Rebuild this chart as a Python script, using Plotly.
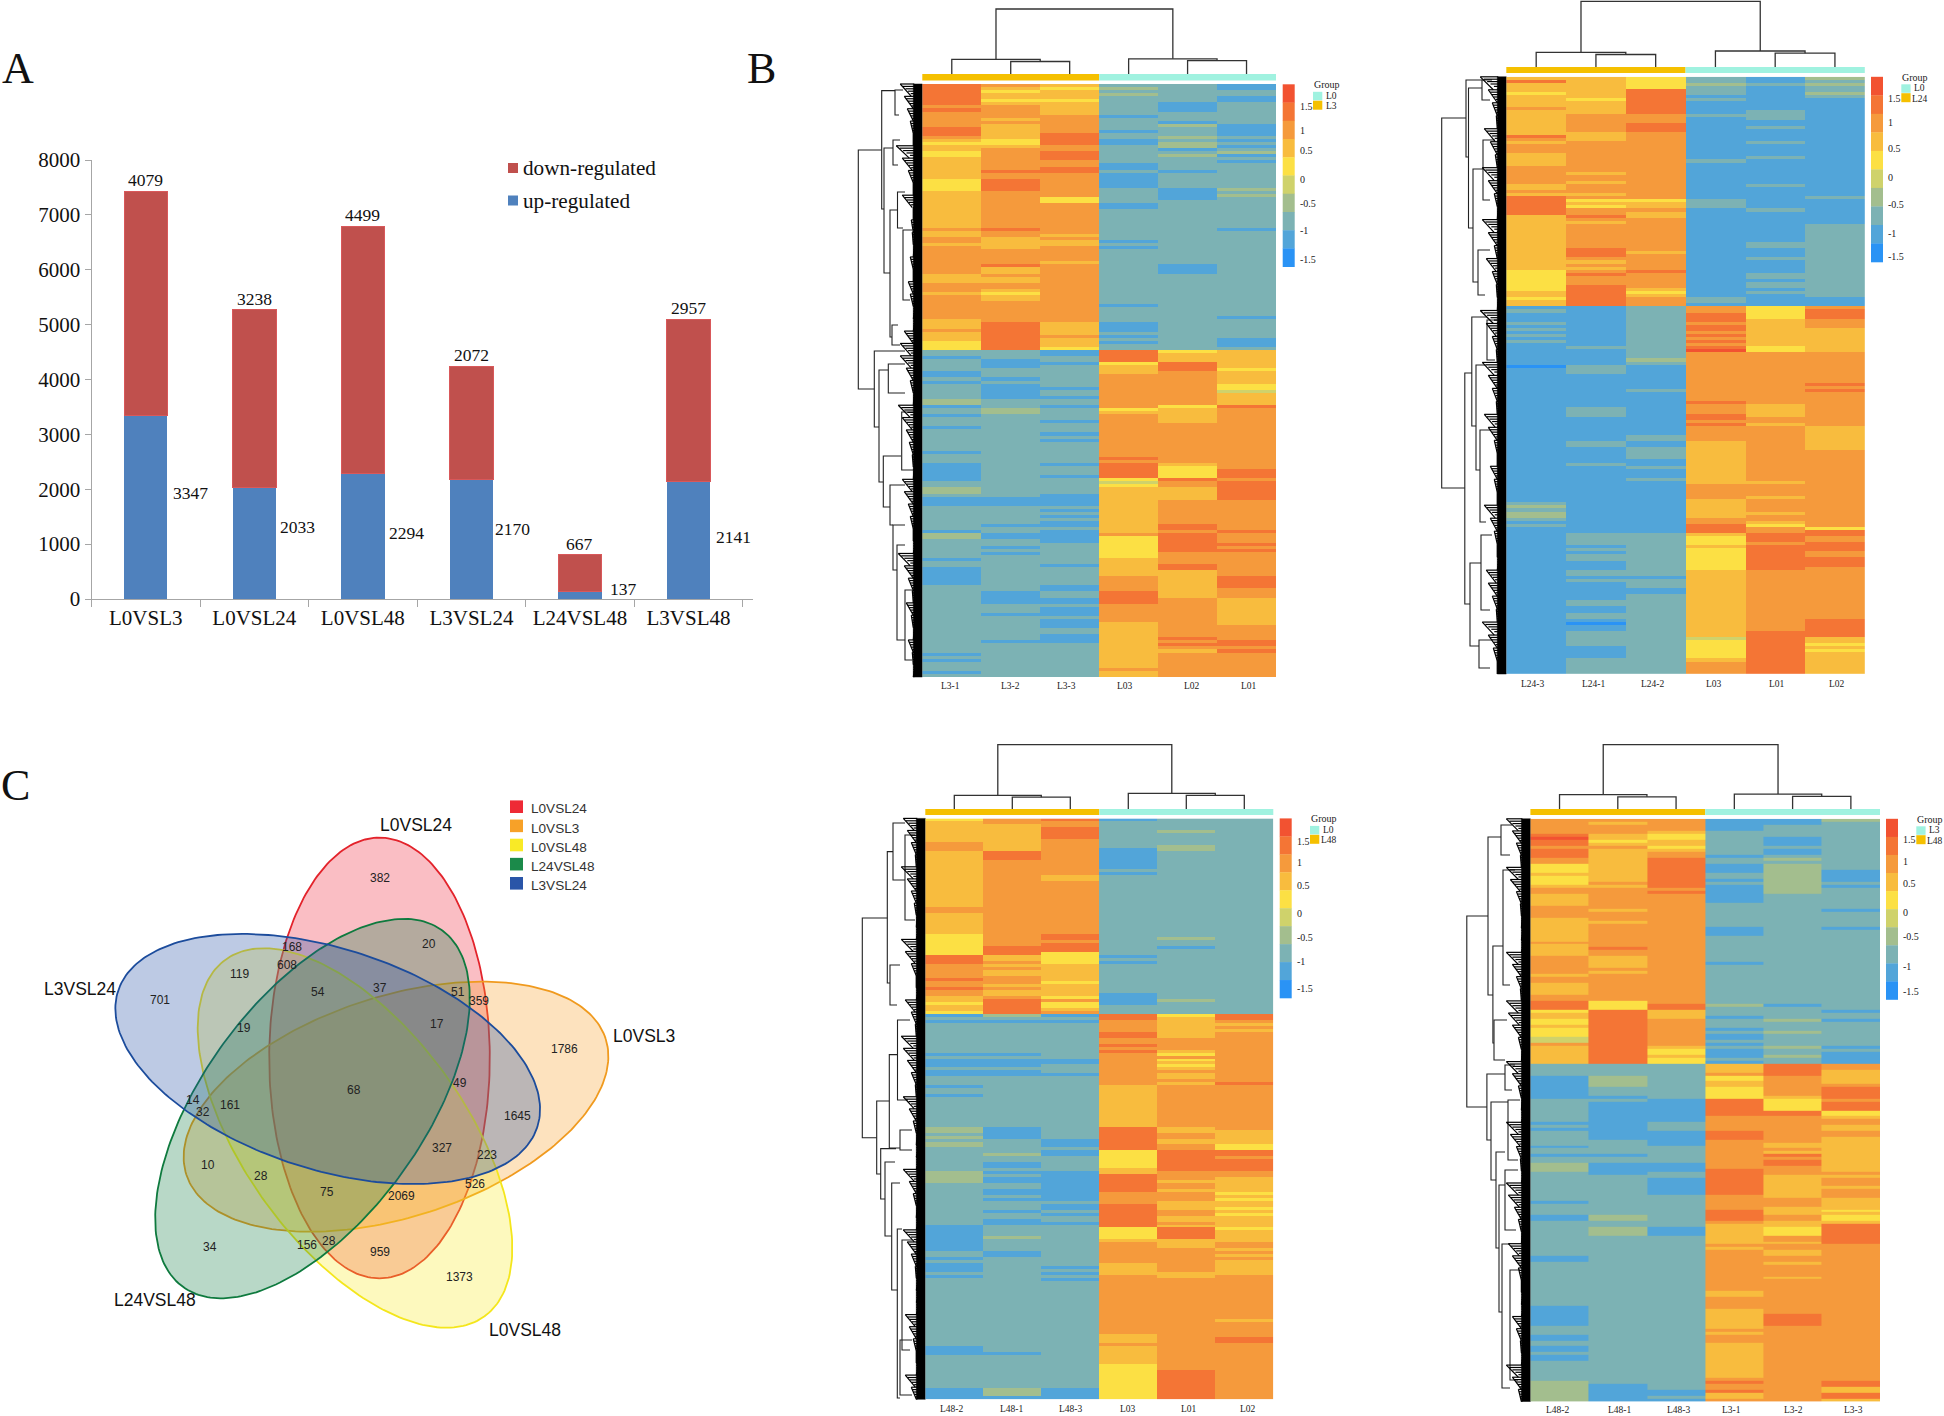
import math
import numpy as np
import plotly.graph_objects as go

W, H = 1944, 1416
SERIF = "Liberation Serif"
SANS = "Liberation Sans"

# ---------- Panel A data ----------
categories = ["L0VSL3", "L0VSL24", "L0VSL48", "L3VSL24", "L24VSL48", "L3VSL48"]
up_regulated = [3347, 2033, 2294, 2170, 137, 2141]
down_regulated = [4079, 3238, 4499, 2072, 667, 2957]
up_label_y = [1935, 1310, 1205, 1272, 186, 1123]
up_label_shift = [45, 43, 44, 41.5, 43.5, 45]

# ---------- Panel C data ----------
venn_sets = ["L0VSL24", "L0VSL3", "L0VSL48", "L24VSL48", "L3VSL24"]
venn_line = ["#E3232B", "#F09A1E", "#F4E61C", "#0E7A3E", "#1C4C9C"]
venn_fill = ["rgba(238,40,60,0.30)", "rgba(247,160,40,0.30)", "rgba(250,235,40,0.30)",
             "rgba(20,125,70,0.30)", "rgba(35,80,165,0.30)"]
venn_cx = [379.5, 396.0, 355.0, 312.5, 327.7]
venn_cy = [1058.0, 1106.7, 1138.0, 1108.6, 1059.0]
venn_angle = [90, -18, 54, -54, 18]
venn_major, venn_minor = 220.4, 110.3
venn_numbers = ["382", "20", "168", "608", "119", "54", "37", "51", "359", "701", "19", "17",
                "1786", "49", "68", "14", "32", "161", "1645", "327", "223", "10", "28", "75",
                "526", "2069", "34", "156", "28", "959", "1373"]
venn_num_x = [852, 962, 654, 643, 537, 712, 851, 1027, 1074, 359, 547, 978,
              1265, 1031, 794, 432, 455, 515, 1159, 991, 1090, 467, 585, 732,
              1065, 899, 470, 687, 737, 852, 1030]
venn_num_y = [308, 482, 489, 536, 559, 605, 596, 605, 630, 628, 699, 691,
              754, 843, 863, 888, 920, 902, 931, 1014, 1031, 1057, 1086, 1128,
              1108, 1140, 1272, 1267, 1257, 1286, 1350]
venn_name_labels = ["L0VSL24", "L3VSL24", "L0VSL3", "L24VSL48", "L0VSL48"]
venn_name_x = [415.6, 80.0, 643.8, 154.5, 525.0]
venn_name_y = [825.0, 988.9, 1036.0, 1299.6, 1330.0]

# ---------- Panel B data: colour-bin of each row, one digit per sample ----------
bin_colors = ["#2A93F5", "#52A5D9", "#7CB2B4", "#A3BE8E", "#CFD26B",
              "#FCE044", "#F8BC3E", "#F59A3C", "#F47535", "#F25231"]

hm1_samples = ["L3-1", "L3-2", "L3-3", "L03", "L02", "L01"]
hm1_up = """876221 865321 856222 866322 866221 855221 866212 776212 876212 776222 777122 767222
777212 767231 867221 867121 868221 768232 658121 558132 667231 677212 578223 578231
678222 677221 677122 678122 688212 677122 677122 587122 587122 587122 587213 677212
677213 675212 675222 677122 677122 677222 677222 677222 677222 677222 677222 787221
677222 676222 767222 766122 666222 767122 777222 777222 777222 777222 776222 787212
767212 767212 677222 667222 667222 777222 777222 767222 657222 767222 767222 777222
777122 777222 777222 777222 777221 677222 686122 686122 786122 686222 687122 686221 586121 586221 585222""".split()
hm1_low = """221856 221866 122866 212866 211586 212686 222685 122676 122776 212776 122776 212775
211775 212774 212776 211776 322776 322776 121758 232567 232667 122767 222767 221767
222777 122777 222777 221777 222777 221777 222777 222777 222777 122777 222777 222877
222777 121867 122857 122858 122858 121858 122587 222478 222578 322668 322668 221668
111668 111677 111677 222677 221677 222677 221677 222677 221677 211687 222687 121678
311787 311587 221587 222588 212587 222588 212577 222577 122677 222677 221687 122687
122667 122667 122768 122768 122768 221768 221767 212867 212867 211876 211876 222776
221776 221776 211776 222776 221776 221676 221677 222677 222677 221677 221687 211678
222688 222677 222668 122677 222677 122677 222677 222677 222777 122677 222677""".split()

hm2_samples = ["L24-3", "L24-1", "L24-2", "L03", "L01", "L02"]
hm2_up = """665213 865212 665323 665212 668212 568213 668112 658211 668111 668111 768111 668121
677221 677121 677111 678111 678121 678111 667111 867111 767111 677121 777111 777111
777111 677111 677121 677211 677111 777111 777111 767111 777111 777111 767111 677121
677111 777111 667111 877112 855211 866211 856211 877121 876111 686111 677111 667111
677112 677112 677112 677112 677112 677112 677122 677122 687112 686112 687112 677122
667112 677112 667112 578112 587122 577122 577112 577122 587122 586112 685122 686112 587211 687211 687111""".split()
hm2_low = """112757 212758 112858 112858 112867 212767 112867 212866 112766 212866 112766 212866
112766 122856 112956 112777 112777 113777 112777 021777 121777 121777 111777 111777
111777 111778 111777 112778 111777 111777 111777 111877 111767 121767 121767 121867
111877 111777 111867 111776 111776 111776 112776 112776 121676 121676 112676 112677
112677 112677 111677 121677 112677 111677 111677 111677 112677 111667 111777 111777
111777 111777 111767 111677 211677 311677 211677 311667 311677 211777 111767 211857
111875 111878 122688 122587 122587 122578 112688 122588 112587 122587 122588 112588
112588 112587 122677 122677 111677 122677 112677 112677 111677 111677 112677 112677
122677 122677 112677 112677 122677 122677 112678 102678 112678 112678 122688 122688
122486 122586 122585 112586 112585 112586 112586 122686 122786 122786 122786 122786""".split()

hm3_samples = ["L48-2", "L48-1", "L48-3", "L03", "L01", "L02"]
hm3_up = """578122 677222 667222 668222 668232 668222 668222 667222 767222 767232 767132 687122
687122 687122 677122 677122 677122 677222 677122 676222 676222 677222 677222 677222
677222 677222 677222 677222 677222 677222 777222 777222 677222 677222 677222 677222
677222 677222 677222 578222 578232 577222 578222 588212 588222 585222 865122 865222
875122 766222 776222 766222 766222 776222 876222 775222 766222 876222 766222 766122
675122 687132 585122 685222 686222 587222""".split()
hm3_low = """131858 222868 111767 222766 222767 222766 222867 222867 222777 222777 222877 222777
222867 112757 222777 111757 111767 112757 222767 112777 111767 222767 222777 222768
122677 222677 222677 122677 222677 222677 222677 222677 222677 222677 222677 222677
222677 222677 312867 312866 212876 312876 221866 321866 321875 222875 221588 231588
222587 222588 212588 212588 222688 311677 321877 311876 311866 221876 221876 211866
211775 221776 211775 222766 221866 221865 212876 221875 222866 212866 211876 122866
122585 122586 122586 132586 122666 122767 122767 122776 212777 212776 122777 222776
122676 121676 122676 221666 122767 221777 222777 222777 222777 222777 222777 222777
222777 222777 222777 222777 222777 222777 222777 222776 222777 222777 222777 222777
222677 222678 222678 222777 122677 122677 112677 222677 222677 222677 222577 222577
222587 222587 222587 222587 222587 222587 131587 131587 131587 111587""".split()

hm4_samples = ["L48-2", "L48-1", "L48-3", "L3-1", "L3-2", "L3-3"]
hm4_up = """777113 767112 777122 777122 776222 865222 965212 856212 866212 775222 866212 867212
867122 768232 768222 568132 568132 568131 668231 568231 568131 578232 668131 777132
778132 677122 677122 677122 677222 777222 767221 777222 777222 677222 667222 677222
677121 677122 677122 677222 677222 777222 677222 687222 677222 677222 767222 767222
767122 767222 777222 767222 677222 777222 777222 677222 677222 677222 677222 777222
777222 857222 858312 858222 586221 686222 686122 587231 587222 687222 587122 587232
587122 487122 487222 787122 686231 685122 685121 686131 685221 685121""".split()
hm4_low = """222687 222687 222686 222786 132576 132576 132676 132677 122578 122578 122578 112568
221857 211858 211858 211858 211885 211885 211776 211777 112777 212776 112776 211877
211877 211876 221776 221766 122766 222776 222766 112786 222776 222786 311786 311776
311876 212877 222866 221867 221867 221867 221866 221867 221867 222767 222776 122776
222776 222766 222865 222866 132875 132875 222766 222668 231658 231658 231658 222678
222678 222668 222777 222677 222767 222767 122777 122777 222767 222777 222777 222777
222777 222767 222777 222777 222777 222777 222677 222677 222777 222777 222777 122777
122677 122677 122687 122687 122687 122687 222677 222777 222677 122777 122777 222777
222677 122677 122677 222677 122677 122677 222677 222677 222677 222677 222677 222677
222777 322878 312778 312776 311876 311678 312678 311776""".split()

# row dendrogram brackets: x, y_top, y_bottom, x_child_top, x_child_bottom
hm1_brackets = [(858.3,150,389,881.7,874.3),(881.7,90.6,209,895,884),(884,148,273,893,890),
                (890,210,337,897.5,892),(897.5,192,228,905,903),(892,325,345,898,900),
                (895,90,115,903,899),(893,140,165,900,898),(903,230,300,912,910),
                (874.3,351,427,905,879),(879,370,482,888,883.3),(888.3,364,393,905,905),
                (883.3,456,507,901,890),(901.7,412,470,915,915),(890,485,525,905,893),
                (893,525,570,905,897),(897,545,640,905,905),(905,590,660,912,912)]
hm2_brackets = [(1441.7,118,488,1466,1464.8),(1466,80,157,1482,1468.5),(1468.5,88,228,1482,1473),
                (1473,169,282,1483,1478),(1478,250,295,1490,1485),(1483,140,200,1495,1490),
                (1482,80,100,1492,1490),(1464.8,373,604,1472,1470),(1471.8,317,426,1487,1476),
                (1476,365,470,1485,1480),(1487,320,360,1497,1495),(1480,430,522,1490,1486),
                (1470,563,646,1481,1479),(1481,535,610,1492,1490),(1479,640,668,1492,1490)]
hm3_brackets = [(862.3,918,1137.7,887.3,876.7),(887.3,851.6,983,893,890),(893,823,880,905,905),
                (905,835,920,915,915),(890,965,1005,900,897),(876.7,1101,1174,889.3,880.7),
                (889.3,1054.6,1148,897.5,900),(897.5,1020,1100,910,908),(900,1130,1150,912,912),
                (880.7,1148.6,1199,896,885),(885,1162,1236,895,891.7),(891.7,1183,1290,900,897.3),
                (897.3,1229,1398,902,900),(902,1240,1350,912,910),(900,1340,1395,912,912)]
hm4_brackets = [(1466.8,916,1107,1488,1486.9),(1488,837,995,1501,1492.9),(1501,825,855,1512,1510),
                (1492.9,946,1043,1503,1494),(1503,870,985,1515,1510),(1494,1020,1060,1507,1505),
                (1486.9,1074,1140,1505,1491),(1505,1065,1090,1515,1512),(1491,1102,1180,1508,1496),
                (1508,1100,1160,1520,1518),(1496,1152,1248,1505,1499),(1499,1185,1312,1505,1502),
                (1505,1170,1230,1518,1516),(1502,1244,1388,1510,1510),(1510,1270,1380,1520,1518)]

# black leaf mass depth (px), top to bottom
hm1_comb = [22,18,15,12,9,26,20,14,9,20,9,11,10,8,12,9,14,12,7,7,18,22,22,16,12,8,24,20,16,13,10,8,20,18,14,12,9,6,24,18,14,10,16,11,8,14,10,7]
hm2_comb = [26,18,14,10,22,16,11,24,18,12,8,24,18,12,20,14,10,8,26,20,14,10,24,18,14,10,22,18,12,9,16,12,9,22,16,12,9,7,20,18,14,10,24,18,13,9]
hm3_comb = [22,18,14,10,24,18,14,11,8,6,24,20,14,9,6,20,14,10,24,22,18,14,10,22,16,12,8,6,5,22,16,12,8,6,22,18,14,10,7,5,5,20,16,12,9,6,20,14]
hm4_comb = [24,18,14,10,24,20,14,10,8,7,6,24,18,14,10,24,22,18,12,8,24,18,12,8,6,24,20,14,10,6,24,22,16,12,8,22,18,12,9,7,6,18,14,10,7,24,18,12]

# column dendrogram heights above the group bar: root, left, left inner, right, right inner
hm1_heights = [65.0, 14.7, 12.5, 15.2, 13.4]
hm2_heights = [65.6, 14.7, 12.5, 16.0, 13.8]
hm3_heights = [64.3, 13.6, 11.8, 15.7, 13.6]
hm4_heights = [64.3, 14.4, 12.2, 14.9, 12.7]

legend_ticks = ["1.5", "1", "0.5", "0", "-0.5", "-1", "-1.5"]

# layout boxes of the four heat maps (pixels)
heatmaps = [
    dict(rows_up=hm1_up, rows_low=hm1_low, samples=hm1_samples, brackets=hm1_brackets, comb=hm1_comb,
         heights=hm1_heights, x0=922.3, x1=1276, y0=84, y1=677, split=351, bar=(74, 80.4),
         leg=(1282.7, 1294.7, 84.3, 266.7), groups=["L0", "L3"],
         leg_y=[106, 130, 150.4, 179.5, 203.6, 230.4, 259],
         sx=[950.3, 1010.7, 1066.3, 1125, 1192, 1248.7], sy=686),
    dict(rows_up=hm2_up, rows_low=hm2_low, samples=hm2_samples, brackets=hm2_brackets, comb=hm2_comb,
         heights=hm2_heights, x0=1506.3, x1=1864.8, y0=76.8, y1=674, split=307, bar=(67, 73),
         leg=(1871, 1883, 76.8, 262), groups=["L0", "L24"],
         leg_y=[98, 122.3, 148.7, 177.2, 204, 233, 256.7],
         sx=[1532, 1593.6, 1652.4, 1714.3, 1776.5, 1837.4], sy=684),
    dict(rows_up=hm3_up, rows_low=hm3_low, samples=hm3_samples, brackets=hm3_brackets, comb=hm3_comb,
         heights=hm3_heights, x0=925.3, x1=1273.3, y0=818.4, y1=1399.3, split=1014.8, bar=(809, 815),
         leg=(1279.7, 1291.7, 818.4, 998), groups=["L0", "L48"],
         leg_y=[841.5, 862.5, 885.3, 913.3, 937.3, 961.4, 988.5],
         sx=[951.7, 1011.3, 1070.7, 1128.3, 1189.3, 1248], sy=1409),
    dict(rows_up=hm4_up, rows_low=hm4_low, samples=hm4_samples, brackets=hm4_brackets, comb=hm4_comb,
         heights=hm4_heights, x0=1530.4, x1=1880, y0=818.8, y1=1401.5, split=1063.8, bar=(809, 815),
         leg=(1886, 1898, 818.8, 999.5), groups=["L3", "L48"],
         leg_y=[839.4, 861.7, 883.1, 912.9, 936, 966.2, 991.2],
         sx=[1557.1, 1619, 1678.5, 1731, 1793.2, 1853.1], sy=1410),
]

TEAL, GOLD = "#A0F2E0", "#F5C000"
fig = go.Figure()
annotations, shapes = [], []


def text(s, x, y, size, family=SERIF, color="#111", xanchor="center", yanchor="middle"):
    annotations.append(dict(text=s, x=x, y=y, xref="x", yref="y", showarrow=False,
                            xanchor=xanchor, yanchor=yanchor, borderpad=0,
                            font=dict(family=family, size=size, color=color)))


def rect(x0, x1, y0, y1, color):
    shapes.append(dict(type="rect", xref="x", yref="y", x0=x0, x1=x1, y0=y0, y1=y1,
                       fillcolor=color, line=dict(width=0), layer="above"))


# overlay axes spanning the whole page, in page pixels
fig.update_layout(
    template="none",
    xaxis=dict(domain=[0, 1], range=[0, W], visible=False, fixedrange=True, automargin=False),
    yaxis=dict(domain=[0, 1], range=[H, 0], visible=False, fixedrange=True, automargin=False),
)

# ---------- Panel A ----------
fig.add_bar(x=categories, y=up_regulated, marker=dict(color="#4F81BD", line=dict(width=0)),
            xaxis="x2", yaxis="y2", width=0.4, name="up-regulated", showlegend=False)
fig.add_bar(x=categories, y=down_regulated, marker=dict(color="#C0504D", line=dict(width=1, color="#D9585A")),
            xaxis="x2", yaxis="y2", width=0.4, name="down-regulated", showlegend=False)
fig.update_layout(
    barmode="stack",
    xaxis2=dict(domain=[91.5 / W, 753 / W], anchor="y2", tickson="boundaries", ticks="outside", ticklen=7,
                tickcolor="#A6A6A6", showline=True, linecolor="#A6A6A6", showgrid=False, automargin=False,
                tickfont=dict(family=SERIF, size=21, color="#111"), fixedrange=True,
                categoryorder="array", categoryarray=categories),
    yaxis2=dict(domain=[1 - 599 / H, 1 - 160 / H], anchor="x2", range=[0, 8000], dtick=1000, ticks="outside",
                ticklen=6, tickcolor="#A6A6A6", showline=True, linecolor="#A6A6A6", showgrid=False, automargin=False,
                zeroline=False, tickfont=dict(family=SERIF, size=21, color="#111"), fixedrange=True),
)
for i, c in enumerate(categories):
    annotations.append(dict(text=str(down_regulated[i]), x=c, y=up_regulated[i] + down_regulated[i],
                            xref="x2", yref="y2", showarrow=False, yanchor="middle", yshift=11,
                            font=dict(family=SERIF, size=17.5, color="#111")))
    annotations.append(dict(text=str(up_regulated[i]), x=c, y=up_label_y[i], xref="x2", yref="y2",
                            showarrow=False, yanchor="middle", xshift=up_label_shift[i],
                            font=dict(family=SERIF, size=17.5, color="#111")))
rect(508, 518, 163, 173, "#C0504D")
rect(508, 518, 195.5, 205.5, "#4F81BD")
text("down-regulated", 522, 167.5, 21.2, xanchor="left")
text("up-regulated", 522, 200.5, 21.2, xanchor="left")

text("A", 18, 68, 44)
text("B", 761, 68, 44)
text("C", 15.6, 785, 44)

# ---------- Panel C ----------
t = np.linspace(0, 2 * math.pi, 241)
for name, lc, fc, cx, cy, ang in zip(venn_sets, venn_line, venn_fill, venn_cx, venn_cy, venn_angle):
    th = math.radians(ang)
    ex = cx + venn_major * np.cos(t) * math.cos(th) - venn_minor * np.sin(t) * math.sin(th)
    ey = cy + venn_major * np.cos(t) * math.sin(th) + venn_minor * np.sin(t) * math.cos(th)
    fig.add_scatter(x=ex, y=ey, mode="lines", fill="toself", fillcolor=fc, line=dict(color=lc, width=1.8),
                    xaxis="x", yaxis="y", showlegend=False, name=name, hoverinfo="skip")
for s, zx, zy in zip(venn_numbers, venn_num_x, venn_num_y):
    text(s, zx / 2.24, 760 + zy / 2.613, 12, family=SANS, color="#222")
for s, x, y in zip(venn_name_labels, venn_name_x, venn_name_y):
    text(s, x, y, 17.5, family=SANS)
for i, (name, col) in enumerate(zip(venn_sets, ["#EE2A35", "#F7A128", "#F9EA26", "#1B8A4A", "#2A55A8"])):
    yy = 806.7 + i * 19.15
    rect(510, 523, yy - 6.3, yy + 6.3, col)
    text(name, 530, yy + 2.2, 13.6, family=SANS, xanchor="left", color="#333")

# ---------- Panel B ----------
n_bins = len(bin_colors)
colorscale = []
for i, c in enumerate(bin_colors):
    colorscale += [[i / n_bins, c], [(i + 1) / n_bins, c]]

for k, hm in enumerate(heatmaps):
    ax = 3 + k
    rows = hm["rows_up"] + hm["rows_low"]
    z = [[int(ch) for ch in r] for r in rows]
    s = (hm["split"] - hm["y0"]) / (hm["y1"] - hm["y0"])
    edges = np.concatenate([np.linspace(0, s, len(hm["rows_up"]) + 1),
                            np.linspace(s, 1, len(hm["rows_low"]) + 1)[1:]])
    fig.add_heatmap(z=z, x=list(range(7)), y=edges, zmin=-0.5, zmax=9.5, colorscale=colorscale,
                    showscale=False, xaxis=f"x{ax}", yaxis=f"y{ax}", hoverinfo="skip")
    fig.update_layout(**{
        f"xaxis{ax}": dict(domain=[hm["x0"] / W, hm["x1"] / W], range=[0, 6], visible=False,
                           anchor=f"y{ax}", fixedrange=True, automargin=False),
        f"yaxis{ax}": dict(domain=[1 - hm["y1"] / H, 1 - hm["y0"] / H], range=[1, 0], visible=False,
                           anchor=f"x{ax}", fixedrange=True, automargin=False),
    })
    x0, x1 = hm["x0"], hm["x1"]
    cw = (x1 - x0) / 6
    colx = lambda c: x0 + cw * c
    xm = (x0 + x1) / 2
    # group bar
    rect(x0, xm, hm["bar"][0], hm["bar"][1], GOLD)
    rect(xm, x1, hm["bar"][0], hm["bar"][1], TEAL)
    # column dendrogram
    b = hm["bar"][0]
    hr, hl, hli, hrt, hri = hm["heights"]
    lx, rx = 1.25, 4.25
    segs = [
        ([colx(lx), colx(lx), colx(rx), colx(rx)], [b - hl, b - hr, b - hr, b - hrt]),
        ([colx(.5), colx(.5), colx(2), colx(2)], [b, b - hl, b - hl, b - hli]),
        ([colx(1.5), colx(1.5), colx(2.5), colx(2.5)], [b, b - hli, b - hli, b]),
        ([colx(3.5), colx(3.5), colx(5), colx(5)], [b, b - hrt, b - hrt, b - hri]),
        ([colx(4.5), colx(4.5), colx(5.5), colx(5.5)], [b, b - hri, b - hri, b]),
    ]
    dx, dy = [], []
    for sx, sy in segs:
        dx += sx + [None]
        dy += sy + [None]
    fig.add_scatter(x=dx, y=dy, mode="lines", line=dict(color="#333", width=1.3), xaxis="x", yaxis="y",
                    showlegend=False, hoverinfo="skip")
    # row dendrogram brackets
    dx, dy = [], []
    for bx, y1, y2, c1, c2 in hm["brackets"]:
        dx += [c1, bx, bx, c2, None]
        dy += [y1, y1, y2, y2, None]
    fig.add_scatter(x=dx, y=dy, mode="lines", line=dict(color="#222", width=1.1), xaxis="x", yaxis="y",
                    showlegend=False, hoverinfo="skip")
    # leaf mass: a solid band with leaf lines reaching out to the read depth
    comb = hm["comb"]
    edge = np.linspace(hm["y0"], hm["y1"], len(comb) + 1)
    fig.add_scatter(x=[x0, x0 - 9, x0 - 9, x0, x0], y=[hm["y0"], hm["y0"], hm["y1"], hm["y1"], hm["y0"]],
                    mode="lines", fill="toself", fillcolor="#000", line=dict(color="#000", width=0.5),
                    xaxis="x", yaxis="y", showlegend=False, hoverinfo="skip")
    lx_, ly_ = [], []
    for i, d in enumerate(comb):
        ys = np.arange(edge[i], edge[i + 1], 2.4)
        for j, yy in enumerate(ys):
            reach = d - (d - 9) * j / max(len(ys) - 1, 1)
            lx_ += [x0 - 8, x0 - max(reach, 9), None]
            ly_ += [yy, yy, None]
        lx_ += [x0 - d, x0 - max(d * 0.5, 9), None]
        ly_ += [edge[i], edge[i + 1], None]
    fig.add_scatter(x=lx_, y=ly_, mode="lines", line=dict(color="#000", width=1.2), xaxis="x", yaxis="y",
                    showlegend=False, hoverinfo="skip")
    # sample labels
    for name, sx in zip(hm["samples"], hm["sx"]):
        text(name, sx, hm["sy"], 9.5, color="#222")
    # colour legend
    lx0, lx1, ly0, ly1 = hm["leg"]
    step = (ly1 - ly0) / n_bins
    for i in range(n_bins):
        rect(lx0, lx1, ly0 + i * step, ly0 + (i + 1) * step + 0.3, bin_colors[n_bins - 1 - i])
    for lab, yy in zip(legend_ticks, hm["leg_y"]):
        text(lab, lx1 + 4, yy, 10, color="#222", xanchor="left")
    # group key
    gx = lx0 + 30.3
    text("Group", gx + 13.7, ly0 + 0.4, 10, color="#222")
    rect(gx, gx + 9.3, ly0 + 7.5, ly0 + 16, TEAL)
    rect(gx, gx + 9.3, ly0 + 16.4, ly0 + 25.4, GOLD)
    text(hm["groups"][0], gx + 18.5, ly0 + 11.5, 9.5, color="#222")
    text(hm["groups"][1], gx + 18.5, ly0 + 21.8, 9.5, color="#222")

fig.update_layout(width=W, height=H, margin=dict(l=0, r=0, t=0, b=0, pad=0), paper_bgcolor="white",
                  plot_bgcolor="rgba(0,0,0,0)", showlegend=False, annotations=annotations, shapes=shapes)
fig.write_html("out.html", config={"displayModeBar": False},
               post_script="document.body.style.margin='0';document.documentElement.style.overflow='hidden';")
